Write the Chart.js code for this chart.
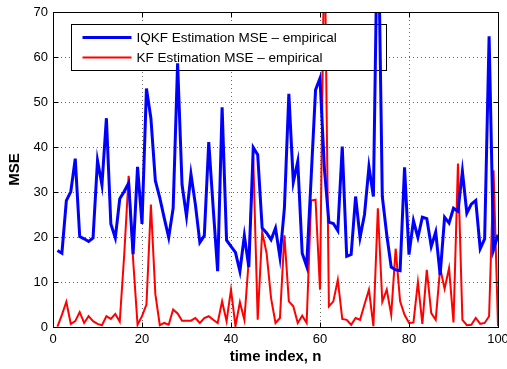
<!DOCTYPE html>
<html>
<head>
<meta charset="utf-8">
<script src="https://cdn.jsdelivr.net/npm/chart.js@4"></script>
<style>
  html, body { margin: 0; padding: 0; background: #fff; }
  #wrap { width: 507px; height: 369px; }
</style>
</head>
<body>
<div id="wrap"><canvas id="chart" width="507" height="369"></canvas></div>
<script>
// empirical MSE per time index n = 1..100
const iqkfMse = [
  17.0, 16.4, 28.1, 30.1, 37.4, 20.1, 19.6, 19.0, 19.8, 37.0,
  31.6, 46.4, 22.9, 19.8, 28.5, 30.1, 32.0, 16.2, 35.6, 22.9,
  53.0, 46.4, 32.5, 28.7, 24.2, 19.9, 26.4, 58.6, 31.6, 24.6,
  34.0, 27.2, 18.8, 20.3, 41.1, 26.4, 12.4, 48.8, 19.3, 17.9,
  16.6, 12.4, 20.3, 13.3, 39.9, 38.3, 22.0, 20.9, 19.4, 22.0,
  15.5, 26.4, 51.8, 32.2, 36.8, 16.4, 13.5, 33.0, 52.7, 55.3,
  35.0, 23.3, 23.0, 21.4, 40.1, 15.7, 16.1, 29.0, 19.9, 25.0,
  35.6, 29.0, 96.0, 29.0, 20.5, 13.3, 12.7, 12.5, 35.5, 16.1,
  23.6, 19.9, 24.4, 24.1, 17.9, 21.1, 11.6, 24.4, 23.1, 26.4,
  25.7, 34.6, 25.3, 27.3, 28.1, 17.4, 19.6, 64.6, 17.2, 20.5
];
const kfMse = [
  0.1, 2.7, 5.6, 0.7, 1.3, 3.3, 0.9, 2.4, 1.3, 0.7,
  0.4, 2.4, 1.8, 2.9, 1.2, 16.0, 33.6, 15.0, 0.5, 2.4,
  5.0, 27.2, 7.3, 0.4, 0.9, 0.5, 3.9, 3.0, 1.4, 1.4,
  1.4, 2.0, 0.9, 2.0, 2.4, 1.6, 0.9, 5.7, 1.3, 8.3,
  0.2, 5.5, 1.6, 15.0, 37.6, 1.6, 21.1, 16.4, 6.4, 0.9,
  2.0, 20.4, 5.7, 4.6, 0.9, 2.5, 0.9, 28.1, 28.3, 8.3,
  90.0, 4.6, 5.7, 10.5, 1.8, 1.6, 0.5, 2.0, 1.6, 5.0,
  8.3, 0.2, 26.4, 5.6, 8.3, 2.7, 17.4, 5.7, 2.7, 0.9,
  1.0, 10.0, 0.7, 12.7, 3.1, 1.6, 13.1, 8.5, 13.1, 1.0,
  36.3, 1.6, 0.4, 0.5, 2.0, 0.7, 0.9, 2.4, 34.8, 0.2
];
const seriesNames = ['IQKF Estimation MSE \u2013 empirical', 'KF Estimation MSE \u2013 empirical'];
const seriesColors = ['#0000ff', '#ff0000'];
const seriesWidths = [3, 2];
const xTicks = [0, 20, 40, 60, 80, 100];
const yTicks = [0, 10, 20, 30, 40, 50, 60, 70];

const FONT = "'Liberation Sans', Arial, Helvetica, sans-serif";
Chart.defaults.font.family = FONT;
Chart.defaults.color = '#000';

const toPoints = arr => arr.map((v, i) => ({ x: i + 1, y: v }));

function drawLegend(chart) {
  const { ctx, chartArea: a } = chart;
  const bx = Math.round(a.left) + 18.5, by = Math.round(a.top) + 12.5, bw = 315, bh = 46;
  ctx.save();
  ctx.setLineDash([]);
  ctx.fillStyle = '#fff';
  ctx.fillRect(bx, by, bw, bh);
  ctx.strokeStyle = '#000';
  ctx.lineWidth = 1;
  ctx.strokeRect(bx, by, bw, bh);
  ctx.font = '13.5px ' + FONT;
  ctx.textBaseline = 'middle';
  ctx.textAlign = 'left';
  seriesNames.forEach((name, i) => {
    const ly = by + 13 + i * 20;
    ctx.beginPath();
    ctx.strokeStyle = seriesColors[i];
    ctx.lineWidth = seriesWidths[i];
    ctx.moveTo(bx + 11, ly);
    ctx.lineTo(bx + 60, ly);
    ctx.stroke();
    ctx.fillStyle = '#000';
    ctx.fillText(name, bx + 65, ly + 0.5);
  });
  ctx.restore();
}

// legend sits above the KF line but below the IQKF line; axes box with inward ticks last
const frame = {
  id: 'frame',
  afterDatasetDraw(chart, args) {
    if (args.index === 1) drawLegend(chart);
  },
  afterDatasetsDraw(chart) {
    const { ctx, chartArea: a, scales: { x, y } } = chart;
    const L = Math.round(a.left) + 0.5, R = Math.round(a.right) + 0.5;
    const T = Math.round(a.top) + 0.5, B = Math.round(a.bottom) + 0.5;
    ctx.save();
    ctx.strokeStyle = '#000';
    ctx.lineWidth = 1;
    ctx.setLineDash([]);
    ctx.strokeRect(L, T, R - L, B - T);
    ctx.beginPath();
    xTicks.forEach(v => {
      const px = Math.round(x.getPixelForValue(v)) + 0.5;
      ctx.moveTo(px, B); ctx.lineTo(px, B - 5);
      ctx.moveTo(px, T); ctx.lineTo(px, T + 5);
    });
    yTicks.forEach(v => {
      const py = Math.round(y.getPixelForValue(v)) + 0.5;
      ctx.moveTo(L, py); ctx.lineTo(L + 5, py);
      ctx.moveTo(R, py); ctx.lineTo(R - 5, py);
    });
    ctx.stroke();
    ctx.restore();
  }
};

new Chart(document.getElementById('chart'), {
  type: 'line',
  data: {
    datasets: [
      { label: seriesNames[0], data: toPoints(iqkfMse), borderColor: seriesColors[0],
        borderWidth: seriesWidths[0], pointRadius: 0, tension: 0, fill: false, order: 0 },
      { label: seriesNames[1], data: toPoints(kfMse), borderColor: seriesColors[1],
        borderWidth: seriesWidths[1], pointRadius: 0, tension: 0, fill: false, order: 1 }
    ]
  },
  options: {
    responsive: false,
    animation: false,
    devicePixelRatio: 1,
    layout: { padding: { top: 12, right: 9, left: 0, bottom: 0 } },
    plugins: { legend: { display: false }, tooltip: { enabled: false } },
    scales: {
      x: {
        type: 'linear', min: 0, max: 100,
        afterBuildTicks: s => { s.ticks = xTicks.map(v => ({ value: v })); },
        afterFit: s => { s.height = 42; s.paddingLeft = 0; s.paddingRight = 0; },
        grid: { color: 'rgba(0,0,0,0.6)', lineWidth: 1, drawTicks: false },
        border: { display: false, dash: [1, 3] },
        ticks: { padding: 5, font: { size: 13 }, maxRotation: 0 },
        title: { display: true, text: 'time index, n', font: { size: 15, weight: 'bold' },
                 padding: { top: 3, bottom: 3 } }
      },
      y: {
        min: 0, max: 70,
        afterBuildTicks: s => { s.ticks = yTicks.map(v => ({ value: v })); },
        afterFit: s => { s.width = 53; s.paddingTop = 0; s.paddingBottom = 0; },
        grid: { color: 'rgba(0,0,0,0.6)', lineWidth: 1, drawTicks: false },
        border: { display: false, dash: [1, 3] },
        ticks: { padding: 5, font: { size: 13 } },
        title: { display: true, text: 'MSE', font: { size: 15, weight: 'bold' },
                 padding: { top: 6, bottom: 3 } }
      }
    }
  },
  plugins: [frame]
});
</script>
</body>
</html>
